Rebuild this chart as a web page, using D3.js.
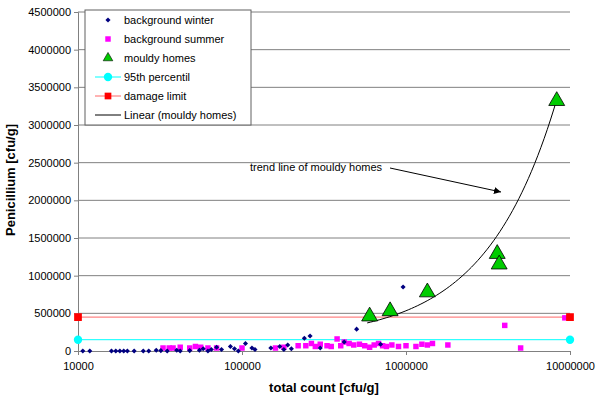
<!DOCTYPE html>
<html><head><meta charset="utf-8">
<script src="https://cdn.jsdelivr.net/npm/d3@7"></script>
<style>body{margin:0;background:#fff}text{font-family:"Liberation Sans",Arial,sans-serif}</style>
</head><body><svg id="chart" width="600" height="400"></svg>
<script>
// chart values
const winterX = [10700,11800,16000,17000,18000,19000,20000,22000,25000,27000,30000,32000,35000,40000,42000,48000,55000,58000,62000,65000,70000,75000,85000,90000,95000,105000,115000,120000,150000,170000,180000,190000,200000,240000,260000,300000,420000,500000,700000,960000];
const winterY = [0,0,0,0,0,0,0,0,0,0,10000,5000,0,10000,0,5000,10000,30000,0,20000,50000,20000,60000,30000,0,100000,40000,20000,40000,60000,20000,80000,30000,170000,200000,40000,120000,290000,90000,850000];
const summerX = [33000,36000,38000,42000,48000,52000,56000,62000,70000,100000,160000,180000,220000,245000,265000,280000,300000,330000,350000,380000,400000,420000,450000,480000,520000,560000,600000,640000,680000,720000,760000,820000,900000,1000000,1150000,1250000,1350000,1450000,1800000,4000000,5000000,9300000];
const summerY = [0,0,0,10000,0,20000,10000,0,0,0,0,10000,30000,30000,60000,20000,50000,30000,20000,120000,30000,80000,60000,40000,50000,30000,10000,40000,60000,30000,20000,40000,20000,30000,20000,50000,40000,60000,40000,300000,0,400000];
const mouldyX = [600000,800000,1350000,3600000,3700000,8300000];
const mouldyY = [460000,530000,780000,1290000,1150000,3320000];
const limitX = [10000,10000000];
const percentilY = [150000,150000];
const damageY = [450000,450000];
const trendSlope = 0.384, trendIntercept = 150000; // linear fit of mouldy homes
const yTicks = d3.range(0,4500001,500000);
const xTicks = [10000,100000,1000000,10000000];

const svg = d3.select("#chart");
const x = d3.scaleLog().domain([10000,10000000]).range([78,570]);
const y = d3.scaleLinear().domain([0,4500000]).range([351,12]);

// gridlines
svg.append("g").selectAll("line").data(yTicks.slice(1)).join("line")
  .attr("x1",78).attr("x2",570).attr("y1",d=>y(d)).attr("y2",d=>y(d))
  .attr("stroke","#808080").attr("stroke-width",1);

const yAxis = svg.append("g").attr("transform","translate(78,0)")
  .call(d3.axisLeft(y).tickValues(yTicks).tickFormat(d3.format("d")).tickSize(4));
yAxis.selectAll("text").attr("font-size",11).attr("fill","#000");
yAxis.selectAll("line,path").attr("stroke","#808080");
const xAxis = svg.append("g").attr("transform","translate(0,351)")
  .call(d3.axisBottom(x).tickValues(xTicks).tickFormat(d3.format("d")).tickSize(4));
xAxis.selectAll("text").attr("font-size",11).attr("fill","#000").attr("dy","1.1em");
xAxis.selectAll("line,path").attr("stroke","#808080");

// reference lines
const line = d3.line().x(d=>x(d[0])).y(d=>y(d[1]));
svg.append("path").attr("d",line(d3.zip(limitX,percentilY))).attr("stroke","#00ffff").attr("fill","none");
svg.append("path").attr("d",line(d3.zip(limitX,damageY))).attr("stroke","#ff6666").attr("fill","none");

// trend line (linear in x)
const trendX = d3.range(0,61).map(i=>580000*Math.pow(8300000/580000,i/60));
svg.append("path").attr("d",line(trendX.map(v=>[v,trendSlope*v+trendIntercept])))
  .attr("stroke","#000").attr("fill","none");

const dia = d3.symbol().type(d3.symbolSquare).size(13);
const sq = d3.symbol().type(d3.symbolSquare).size(30);
const tri = d3.symbol().type(d3.symbolTriangle).size(110);
const circ = d3.symbol().type(d3.symbolCircle).size(55);

svg.append("g").selectAll("path").data(d3.zip(summerX,summerY)).join("path")
  .attr("d",sq).attr("transform",d=>`translate(${x(d[0])},${y(d[1])-3})`).attr("fill","#ff00ff");
svg.append("g").selectAll("path").data(d3.zip(winterX,winterY)).join("path")
  .attr("d",dia).attr("transform",d=>`translate(${x(d[0])},${y(d[1])}) rotate(45)`).attr("fill","#000080");
svg.append("g").selectAll("path").data(d3.zip(mouldyX,mouldyY)).join("path")
  .attr("d",tri).attr("transform",d=>`translate(${x(d[0])},${y(d[1])})`)
  .attr("fill","#00cc00").attr("stroke","#000").attr("stroke-width",0.8);
svg.append("g").selectAll("path").data(d3.zip(limitX,percentilY)).join("path")
  .attr("d",circ).attr("transform",d=>`translate(${x(d[0])},${y(d[1])})`).attr("fill","#00ffff");
svg.append("g").selectAll("path").data(d3.zip(limitX,damageY)).join("path")
  .attr("d",d3.symbol().type(d3.symbolSquare).size(60)).attr("transform",d=>`translate(${x(d[0])},${y(d[1])})`).attr("fill","#ff0000");

// annotation
svg.append("defs").append("marker").attr("id","ah").attr("viewBox","0 0 10 10")
  .attr("refX",10).attr("refY",5).attr("markerWidth",7).attr("markerHeight",7).attr("orient","auto")
  .append("path").attr("d","M0,0L10,5L0,10z");
svg.append("text").attr("x",250).attr("y",171).attr("font-size",11).text("trend line of mouldy homes");
svg.append("line").attr("x1",390).attr("y1",168).attr("x2",501).attr("y2",192)
  .attr("stroke","#000").attr("marker-end","url(#ah)");

// legend
const lg = svg.append("g").attr("transform","translate(85,10)");
lg.append("rect").attr("width",166).attr("height",115).attr("fill","#fff").attr("stroke","#606060");
const items = [["background winter",dia,"#000080",null],["background summer",sq,"#ff00ff",null],
  ["mouldy homes",d3.symbol().type(d3.symbolTriangle).size(40),"#00cc00",null],
  ["95th percentil",circ,"#00ffff","#00ffff"],["damage limit",d3.symbol().type(d3.symbolSquare).size(45),"#ff0000","#ff6666"],
  ["Linear (mouldy homes)",null,null,"#000"]];
items.forEach((it,i)=>{
  const cy = 10+i*19;
  if(it[3]) lg.append("line").attr("x1",10).attr("x2",36).attr("y1",cy).attr("y2",cy).attr("stroke",it[3]);
  if(it[1]) lg.append("path").attr("d",it[1]).attr("transform",`translate(23,${cy})${i==0?" rotate(45)":""}`).attr("fill",it[2])
    .attr("stroke",i==2?"#000":"none").attr("stroke-width",0.6);
  lg.append("text").attr("x",39).attr("y",cy+4).attr("font-size",11).text(it[0]);
});

// axis titles
svg.append("text").attr("x",324).attr("y",392).attr("text-anchor","middle")
  .attr("font-size",13).attr("font-weight","bold").text("total count [cfu/g]");
svg.append("text").attr("transform","translate(15,180) rotate(-90)").attr("text-anchor","middle")
  .attr("font-size",13).attr("font-weight","bold").text("Penicillium [cfu/g]");
</script></body></html>
